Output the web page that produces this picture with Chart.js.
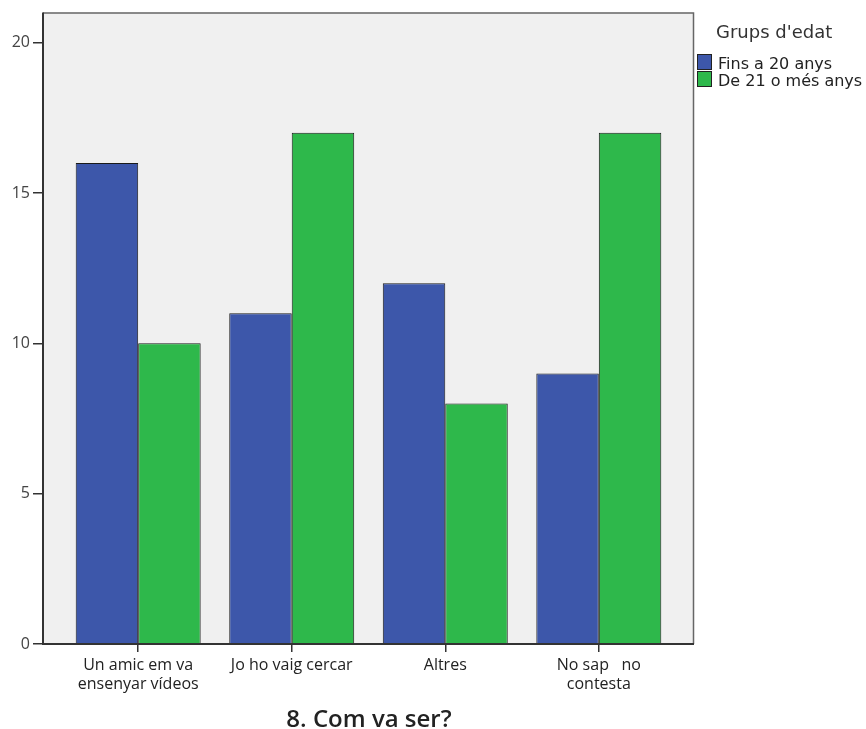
<!DOCTYPE html>
<html>
<head>
<meta charset="utf-8">
<script src="https://cdn.jsdelivr.net/npm/chart.js@4"></script>
<style>
  html, body { margin: 0; padding: 0; background: #fff; overflow: hidden; }
  #wrap { position: relative; width: 866px; height: 729px; overflow: hidden; }
  canvas { position: absolute; left: 0; top: 0; }
  .txt { position: absolute; white-space: nowrap; }
  #title { left: 0; width: 738px; text-align: center; top: 706px; font-family: "Open Sans", sans-serif; font-size: 24px; line-height: 24px; font-weight: 600; color: #222; }
  #legTitle { left: 716px; top: 23px; font-family: "DejaVu Sans", sans-serif; font-size: 18px; line-height: 18px; color: #333; }
  .legText { position: absolute; left: 718px; font-family: "DejaVu Sans", sans-serif; font-size: 16px; line-height: 17px; color: #222; white-space: nowrap; }
  .legSw { position: absolute; left: 697px; width: 15px; height: 16px; border: 1px solid #222; box-sizing: border-box; }
</style>
</head>
<body>
<div id="wrap">
  <canvas id="c" width="866" height="729"></canvas>
  <div id="title" class="txt"></div>
  <div id="legTitle" class="txt"></div>
  <div id="legend"></div>
</div>
<script>
const chartTitle = "8. Com va ser?";
const legendTitle = "Grups d'edat";
const categories = [["Un amic em va", "ensenyar vídeos"], "Jo ho vaig cercar", "Altres", ["No sap   no", "contesta"]];
const seriesNames = ["Fins a 20 anys", "De 21 o més anys"];
const fins20 = [16, 11, 12, 9];
const de21 = [10, 17, 8, 17];
const seriesColors = ["#3d57aa", "#2eb84b"];
const yTicks = [0, 5, 10, 15, 20];

document.getElementById('title').textContent = chartTitle;
document.getElementById('legTitle').textContent = legendTitle;
const leg = document.getElementById('legend');
seriesNames.forEach((n, i) => {
  const sw = document.createElement('div');
  sw.className = 'legSw';
  sw.style.top = (54 + i * 17) + 'px';
  sw.style.background = seriesColors[i];
  leg.appendChild(sw);
  const t = document.createElement('div');
  t.className = 'legText';
  t.style.top = (55 + i * 17) + 'px';
  t.textContent = n;
  leg.appendChild(t);
});

const bgPlugin = {
  id: 'bgPlugin',
  beforeDraw(chart) {
    const a = chart.chartArea, ctx = chart.ctx;
    ctx.save();
    ctx.fillStyle = '#f0f0f0';
    ctx.fillRect(a.left, a.top, a.right - a.left, a.bottom - a.top);
    ctx.restore();
  },
  afterDraw(chart) {
    const a = chart.chartArea, ctx = chart.ctx;
    ctx.save();
    ctx.strokeStyle = '#666';
    ctx.lineWidth = 1.5;
    ctx.beginPath();
    ctx.moveTo(a.left, a.top + 0.5);
    ctx.lineTo(a.right - 0.5, a.top + 0.5);
    ctx.lineTo(a.right - 0.5, a.bottom);
    ctx.stroke();
    ctx.strokeStyle = '#333';
    ctx.lineWidth = 2;
    ctx.beginPath();
    ctx.moveTo(a.left, a.top);
    ctx.lineTo(a.left, a.bottom);
    ctx.lineTo(a.right, a.bottom);
    ctx.stroke();
    ctx.restore();
  }
};

const toPts = arr => arr.map((v, i) => ({ x: i, y: v }));

new Chart(document.getElementById('c'), {
  type: 'bar',
  data: {
    datasets: [
      { label: seriesNames[0], data: toPts(fins20), backgroundColor: seriesColors[0], borderColor: '#1a1a1a', borderWidth: 1 },
      { label: seriesNames[1], data: toPts(de21), backgroundColor: seriesColors[1], borderColor: '#1a1a1a', borderWidth: 1 }
    ]
  },
  options: {
    responsive: false,
    animation: false,
    devicePixelRatio: 1,
    layout: { padding: { left: 0, top: 12, right: 172, bottom: 0 } },
    plugins: { legend: { display: false }, title: { display: false }, tooltip: { enabled: false } },
    datasets: { bar: { categoryPercentage: 0.814, barPercentage: 1.0 } },
    scales: {
      x: {
        type: 'linear',
        offset: false,
        min: -0.62, max: 3.62,
        afterBuildTicks(s) { s.ticks = categories.map((c, i) => ({ value: i })); },
        grid: { offset: false, drawOnChartArea: false, drawTicks: true, tickLength: 8, color: '#333', lineWidth: 1.5 },
        border: { display: false },
        ticks: {
          color: '#222', font: { family: 'Open Sans', size: 16, lineHeight: 1.2 }, padding: 4, maxRotation: 0, autoSkip: false,
          callback: (v) => categories[v]
        },
        afterFit(s) { s.height = 85; }
      },
      y: {
        min: 0, max: 21,
        afterBuildTicks(s) { s.ticks = yTicks.map(v => ({ value: v })); },
        grid: { drawOnChartArea: false, drawTicks: true, tickLength: 10, color: '#333', lineWidth: 1.5 },
        border: { display: false },
        ticks: { color: '#444', font: { family: 'Open Sans', size: 16 }, padding: 3 },
        afterFit(s) { s.width = 43; }
      }
    }
  },
  plugins: [bgPlugin]
});
</script>
</body>
</html>
